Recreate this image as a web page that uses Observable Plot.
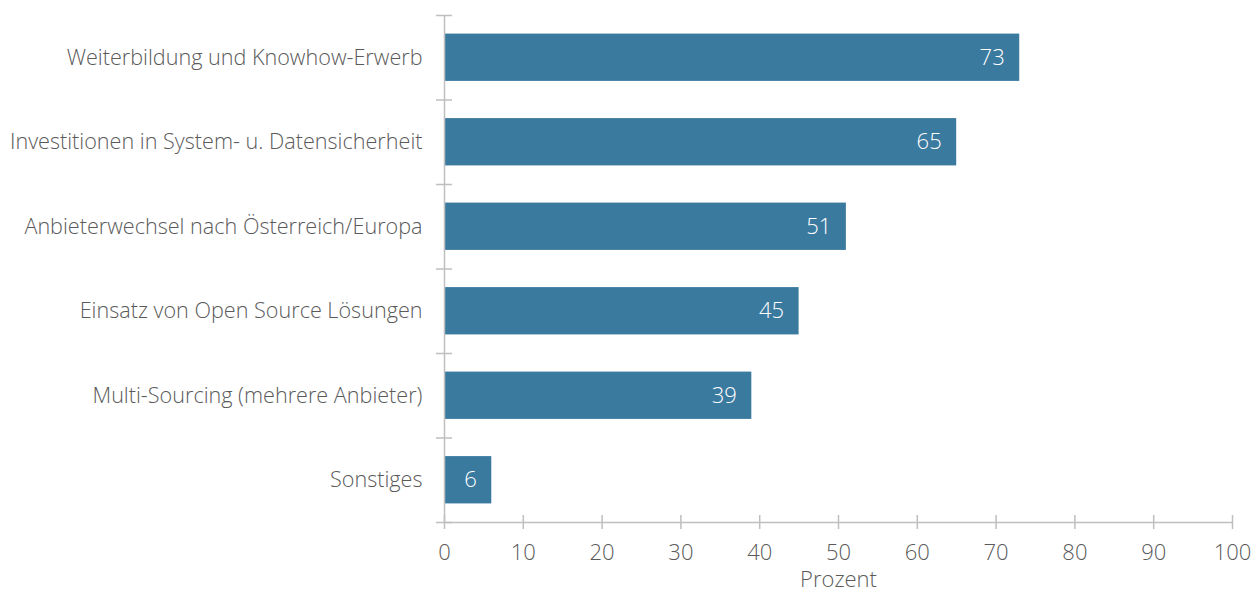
<!DOCTYPE html>
<html>
<head>
<meta charset="utf-8">
<script src="https://cdn.jsdelivr.net/npm/d3@7"></script>
<script src="https://cdn.jsdelivr.net/npm/@observablehq/plot@0.6"></script>
<style>
  html, body { margin: 0; padding: 0; background: #fff; }
  #chart { width: 1260px; height: 592px; }
</style>
</head>
<body>
<div id="chart"></div>
<script>
const categories = [
  "Weiterbildung und Knowhow-Erwerb",
  "Investitionen in System- u. Datensicherheit",
  "Anbieterwechsel nach Österreich/Europa",
  "Einsatz von Open Source Lösungen",
  "Multi-Sourcing (mehrere Anbieter)",
  "Sonstiges"
];
const values = [73, 65, 51, 45, 39, 6];
const xTicks = [0, 10, 20, 30, 40, 50, 60, 70, 80, 90, 100];
const xLabel = "Prozent";

const data = categories.map((c, i) => ({category: c, value: values[i], i}));
const bandEdges = d3.range(categories.length + 1);

const textColor = "#5a5a5a";
const lineColor = "#bfbfbf";
const barColor = "#3b7a9f";

const chart = Plot.plot({
  width: 1260,
  height: 592,
  marginLeft: 444,
  marginRight: 28,
  marginTop: 15,
  marginBottom: 70,
  style: {fontFamily: "'Open Sans', sans-serif", fontSize: "22px", fontWeight: 300, color: textColor, background: "#fff"},
  x: {domain: [0, 100]},
  y: {domain: [0, categories.length], reverse: true},
  marks: [
    Plot.rect(data, {x1: 0, x2: "value", y1: d => d.i + 0.22, y2: d => d.i + 0.78, fill: barColor}),
    Plot.ruleX([0], {stroke: lineColor, strokeWidth: 1.5}),
    Plot.ruleY([categories.length], {stroke: lineColor, strokeWidth: 1.5}),
    Plot.axisY({ticks: bandEdges, tickSize: 16, dx: 8, tickFormat: () => "", stroke: lineColor, strokeWidth: 1.5, label: null}),
    Plot.axisX({ticks: xTicks, tickSize: 14, dy: -7, tickFormat: () => "", stroke: lineColor, strokeWidth: 1.5, label: null}),
    Plot.axisX({ticks: xTicks, tickSize: 0, tickPadding: 22, fill: textColor, fontSize: 22, fontWeight: 300, label: null}),
    Plot.text([xLabel], {frameAnchor: "bottom", dy: 64, fill: textColor, fontSize: 22, fontWeight: 300}),
    Plot.text(data, {x: 0, y: d => d.i + 0.5, text: "category", textAnchor: "end", dx: -22, fill: textColor, fontSize: 21.6, fontWeight: 300}),
    Plot.text(data, {x: "value", y: d => d.i + 0.5, text: d => String(d.value), textAnchor: "end", dx: -15, fill: "white", fontSize: 22, fontWeight: 300})
  ]
});
document.getElementById("chart").appendChild(chart);
</script>
</body>
</html>
